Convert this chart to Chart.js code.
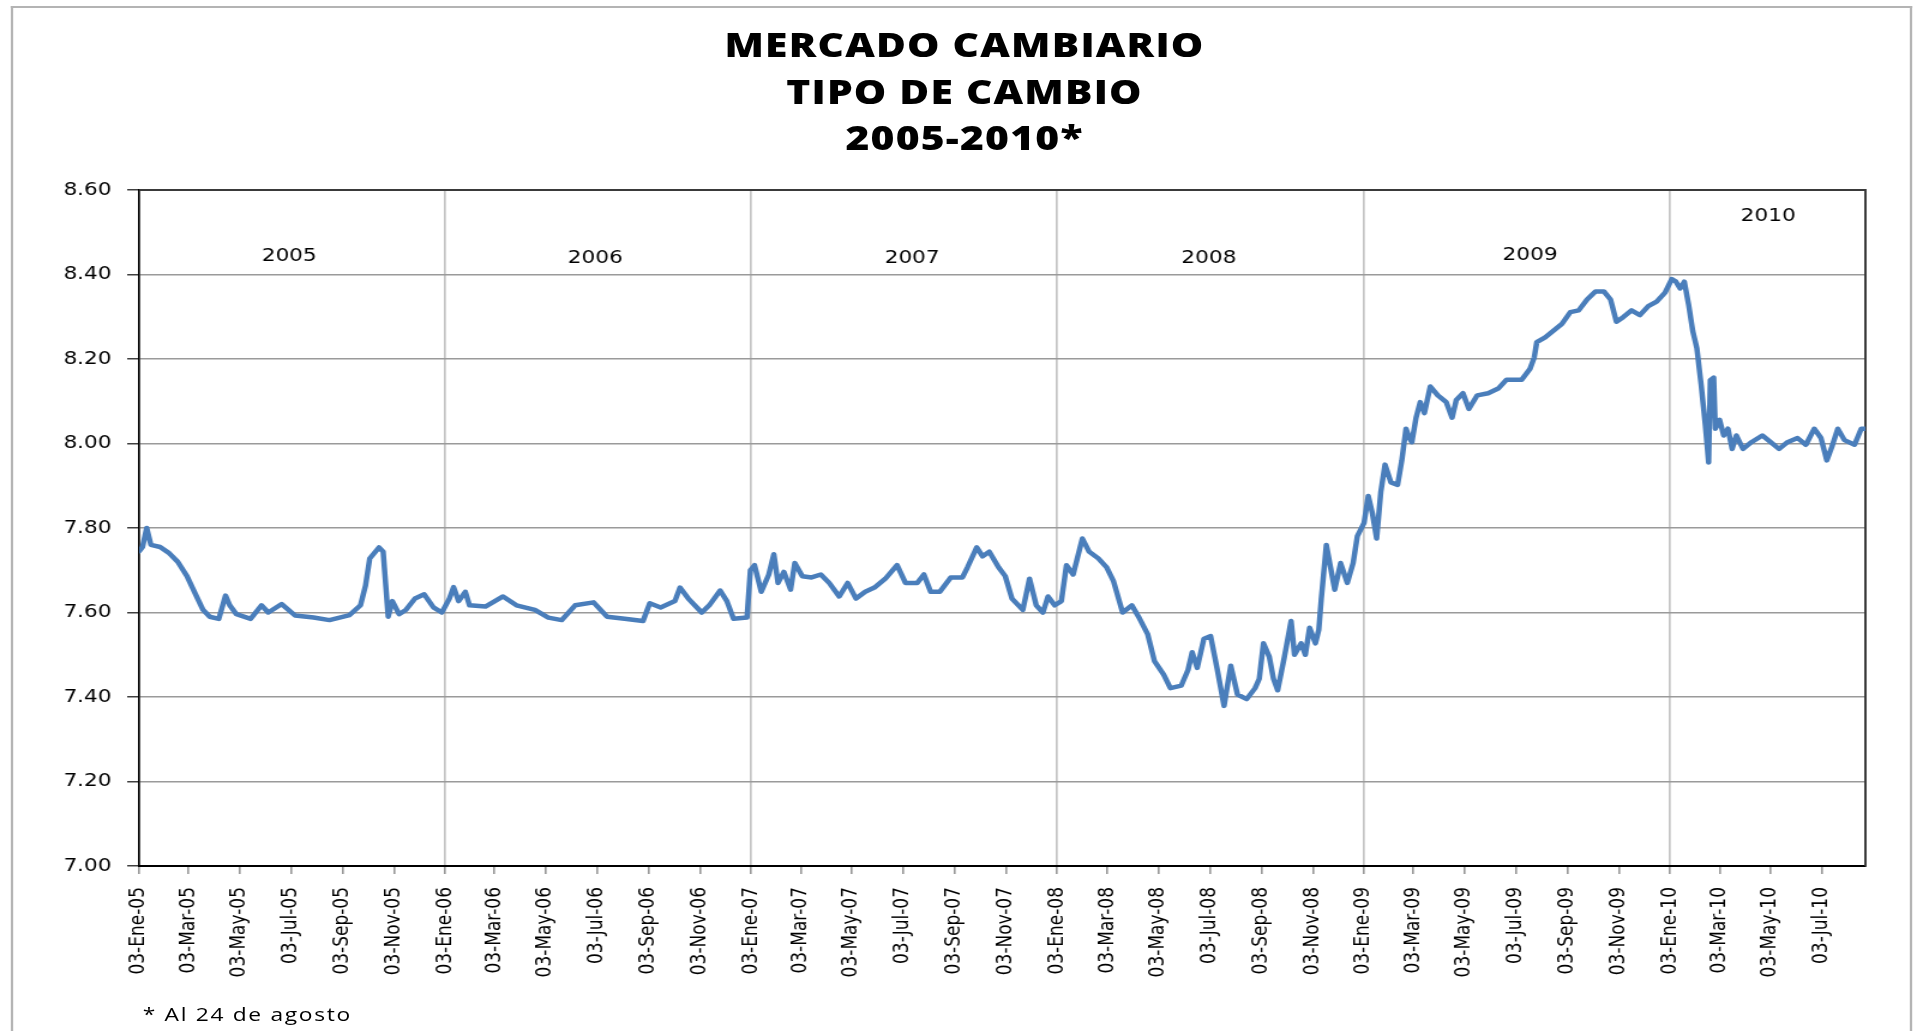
<!DOCTYPE html>
<html lang="es">
<head>
<meta charset="utf-8">
<title>Mercado cambiario - Tipo de cambio 2005-2010</title>
<script src="https://cdn.jsdelivr.net/npm/chart.js@4.4.1/dist/chart.umd.min.js"></script>
<style>
  html, body { margin: 0; padding: 0; background: #fff; overflow: hidden; }
  /* el gráfico original está estirado a lo ancho: se dibuja a 1598px y se escala a 1917px */
  #lienzo { position: absolute; left: 0; top: 0; width: 1598px; height: 1031px;
            transform-origin: 0 0; transform: scaleX(1.19962); }
  #marco { position: absolute; left: 9px; top: 6px; width: 1585px; height: 1100px;
           box-sizing: border-box; border: 2px solid #b4b4b4; border-bottom: none; }
  #titulo { position: absolute; left: 5px; top: 21px; width: 1598px; text-align: center;
            font-family: 'Open Sans', sans-serif; font-weight: 800; font-size: 34px;
            line-height: 46.5px; letter-spacing: 1px; color: #000; }
  #nota { position: absolute; left: 119px; top: 1005px; font-family: 'Open Sans', sans-serif;
          font-size: 19px; line-height: 19px; letter-spacing: 1.4px; color: #000; }
  canvas { position: absolute; left: 0; top: 0; }
</style>
</head>
<body>
<div id="lienzo">
  <div id="marco"></div>
  <canvas id="grafico" width="1598" height="1031"></canvas>
  <div id="titulo">MERCADO CAMBIARIO<br>TIPO DE CAMBIO<br>2005-2010*</div>
  <div id="nota">* Al 24 de agosto</div>
</div>
<script>
// === Datos: tipo de cambio diario (lectura aproximada del gráfico) ===
const fechas = [
  '2005-01-03','2005-01-07','2005-01-12','2005-01-17','2005-01-28','2005-02-08','2005-02-18','2005-03-01',
  '2005-03-12','2005-03-20','2005-03-28','2005-04-08','2005-04-16','2005-04-21','2005-04-29','2005-05-16',
  '2005-05-29','2005-06-06','2005-06-22','2005-07-08','2005-07-30','2005-08-18','2005-09-11','2005-09-24',
  '2005-09-30','2005-10-05','2005-10-16','2005-10-21','2005-10-27','2005-11-01','2005-11-09','2005-11-17',
  '2005-11-28','2005-12-09','2005-12-20','2005-12-30',
  '2006-01-08','2006-01-13','2006-01-19','2006-01-27','2006-02-01','2006-02-20','2006-03-13','2006-03-29',
  '2006-04-20','2006-05-06','2006-05-22','2006-06-07','2006-06-29','2006-07-15','2006-08-05','2006-08-27',
  '2006-09-04','2006-09-17','2006-10-04','2006-10-10','2006-10-20','2006-11-05','2006-11-14','2006-11-27',
  '2006-12-05','2006-12-13','2006-12-29',
  '2007-01-02','2007-01-07','2007-01-15','2007-01-24','2007-01-30','2007-02-04','2007-02-11','2007-02-19',
  '2007-02-24','2007-03-05','2007-03-16','2007-03-27','2007-04-06','2007-04-18','2007-04-28','2007-05-08',
  '2007-05-19','2007-05-30','2007-06-12','2007-06-26','2007-07-06','2007-07-20','2007-07-28','2007-08-05',
  '2007-08-16','2007-08-29','2007-09-12','2007-09-18','2007-09-29','2007-10-06','2007-10-14','2007-10-25',
  '2007-11-02','2007-11-10','2007-11-23','2007-12-01','2007-12-09','2007-12-17','2007-12-23','2007-12-31',
  '2008-01-08','2008-01-14','2008-01-22','2008-02-02','2008-02-10','2008-02-21','2008-03-02','2008-03-10',
  '2008-03-21','2008-04-01','2008-04-09','2008-04-20','2008-04-28','2008-05-09','2008-05-17','2008-05-30',
  '2008-06-07','2008-06-12','2008-06-18','2008-06-26','2008-07-04','2008-07-12','2008-07-20','2008-07-28',
  '2008-08-05','2008-08-16','2008-08-26','2008-08-31','2008-09-05','2008-09-12','2008-09-17','2008-09-22',
  '2008-09-30','2008-10-08','2008-10-12','2008-10-20','2008-10-25','2008-10-30','2008-11-06','2008-11-10',
  '2008-11-13','2008-11-19','2008-11-24','2008-11-29','2008-12-06','2008-12-14','2008-12-21','2008-12-26',
  '2009-01-03','2009-01-08','2009-01-13','2009-01-18','2009-01-23','2009-01-28','2009-02-04','2009-02-12',
  '2009-02-17','2009-02-22','2009-02-26','2009-03-01','2009-03-06','2009-03-11','2009-03-16','2009-03-23',
  '2009-04-01','2009-04-11','2009-04-18','2009-04-23','2009-05-01','2009-05-08','2009-05-18','2009-05-31',
  '2009-06-12','2009-06-22','2009-07-03','2009-07-10','2009-07-20','2009-07-25','2009-07-28','2009-08-07',
  '2009-08-17','2009-08-27','2009-09-06','2009-09-16','2009-09-26','2009-10-06','2009-10-16','2009-10-24',
  '2009-10-31','2009-11-08','2009-11-18','2009-11-28','2009-12-08','2009-12-18','2009-12-28',
  '2010-01-05','2010-01-10','2010-01-15','2010-01-20','2010-01-25','2010-01-30','2010-02-04','2010-02-09',
  '2010-02-14','2010-02-18','2010-02-20','2010-02-24','2010-02-26','2010-03-03','2010-03-08','2010-03-13',
  '2010-03-18','2010-03-23','2010-03-31','2010-04-10','2010-04-23','2010-05-03','2010-05-13','2010-05-23',
  '2010-06-04','2010-06-14','2010-06-24','2010-07-02','2010-07-09','2010-07-15','2010-07-22','2010-07-30',
  '2010-08-11','2010-08-19','2010-08-24'
];
const tipoCambio = [
  7.745,7.755,7.800,7.760,7.755,7.740,7.720,7.686,
  7.640,7.607,7.590,7.585,7.640,7.617,7.596,7.585,
  7.617,7.600,7.620,7.593,7.588,7.582,7.594,7.617,
  7.664,7.728,7.754,7.744,7.590,7.627,7.596,7.606,
  7.633,7.643,7.612,7.600,
  7.633,7.660,7.627,7.649,7.617,7.614,7.638,7.617,
  7.606,7.588,7.582,7.617,7.624,7.590,7.585,7.580,
  7.622,7.612,7.627,7.659,7.633,7.600,7.617,7.652,
  7.627,7.585,7.588,
  7.700,7.712,7.649,7.690,7.738,7.670,7.696,7.654,
  7.717,7.686,7.683,7.690,7.670,7.638,7.670,7.633,
  7.649,7.659,7.680,7.712,7.670,7.670,7.690,7.649,
  7.649,7.683,7.683,7.707,7.754,7.733,7.744,7.707,
  7.686,7.633,7.606,7.680,7.617,7.600,7.638,7.617,
  7.627,7.712,7.690,7.775,7.744,7.728,7.707,7.675,
  7.600,7.617,7.590,7.548,7.485,7.453,7.421,7.427,
  7.464,7.506,7.469,7.538,7.544,7.464,7.379,7.474,
  7.406,7.395,7.421,7.443,7.527,7.495,7.443,7.416,
  7.495,7.580,7.500,7.527,7.500,7.564,7.527,7.559,
  7.633,7.760,7.707,7.654,7.717,7.670,7.717,7.781,
  7.812,7.876,7.834,7.775,7.886,7.950,7.908,7.902,
  7.960,8.035,8.013,8.003,8.061,8.098,8.072,8.135,
  8.114,8.098,8.061,8.103,8.119,8.082,8.114,8.119,
  8.130,8.151,8.151,8.151,8.177,8.204,8.240,8.251,
  8.267,8.283,8.311,8.315,8.341,8.360,8.360,8.341,
  8.288,8.299,8.315,8.304,8.325,8.336,8.357,
  8.389,8.383,8.367,8.383,8.330,8.267,8.225,8.140,
  8.045,7.955,8.150,8.156,8.035,8.056,8.019,8.035,
  7.987,8.019,7.987,8.003,8.019,8.003,7.987,8.003,
  8.013,7.997,8.035,8.013,7.960,7.992,8.035,8.008,
  7.997,8.035,8.035
];
const etiquetasX = [
  '03-Ene-05','03-Mar-05','03-May-05','03-Jul-05','03-Sep-05','03-Nov-05',
  '03-Ene-06','03-Mar-06','03-May-06','03-Jul-06','03-Sep-06','03-Nov-06',
  '03-Ene-07','03-Mar-07','03-May-07','03-Jul-07','03-Sep-07','03-Nov-07',
  '03-Ene-08','03-Mar-08','03-May-08','03-Jul-08','03-Sep-08','03-Nov-08',
  '03-Ene-09','03-Mar-09','03-May-09','03-Jul-09','03-Sep-09','03-Nov-09',
  '03-Ene-10','03-Mar-10','03-May-10','03-Jul-10'
];
const ticksY = [7.00, 7.20, 7.40, 7.60, 7.80, 8.00, 8.20, 8.40, 8.60];
// rótulos de año dentro del área de trazado
const anios = ['2005', '2006', '2007', '2008', '2009', '2010'];
const fechaAnio = ['2005-07-01', '2006-07-01', '2007-07-14', '2008-07-02', '2009-07-20', '2010-04-30'];
const nivelAnio = [8.444, 8.439, 8.439, 8.439, 8.446, 8.537];

const meses = { Ene: 0, Feb: 1, Mar: 2, Abr: 3, May: 4, Jun: 5, Jul: 6, Ago: 7, Sep: 8, Oct: 9, Nov: 10, Dic: 11 };
// fecha ISO -> número de día
const aDia = (iso) => {
    const [a, m, d] = iso.split('-').map(Number);
    return Date.UTC(a, m - 1, d) / 864e5;
};
const diaDeEtiqueta = (et) => {
    const [d, m, a] = et.split('-');
    return Date.UTC(2000 + Number(a), meses[m], Number(d)) / 864e5;
};

const FUENTE_EJES = '"DejaVu Sans", Verdana, sans-serif';

const adornos = {
    id: 'adornos',
    beforeDatasetsDraw(chart) {
        const { ctx, chartArea: ca } = chart;
        ctx.save();
        ctx.strokeStyle = '#3a3a3a';
        ctx.lineWidth = 2;
        ctx.beginPath();
        ctx.moveTo(ca.left, ca.top);
        ctx.lineTo(ca.right, ca.top);
        ctx.lineTo(ca.right, ca.bottom);
        ctx.stroke();
        ctx.restore();
    },
    afterDatasetsDraw(chart) {
        const { ctx, scales: { x, y } } = chart;
        ctx.save();
        ctx.font = '18px ' + FUENTE_EJES;
        ctx.fillStyle = '#000';
        ctx.textAlign = 'center';
        ctx.textBaseline = 'middle';
        anios.forEach((a, i) => {
            ctx.fillText(a, x.getPixelForValue(aDia(fechaAnio[i])), y.getPixelForValue(nivelAnio[i]));
        });
        ctx.restore();
    }
};

new Chart(document.getElementById('grafico'), {
    type: 'line',
    data: {
        datasets: [{
            label: 'Tipo de cambio',
            data: fechas.map((f, i) => ({ x: aDia(f), y: tipoCambio[i] })),
            borderColor: '#4A7EBB',
            borderWidth: 4.5,
            pointRadius: 0,
            tension: 0,
            fill: false,
            borderJoinStyle: 'round',
            borderCapStyle: 'round'
        }]
    },
    options: {
        responsive: false,
        animation: false,
        devicePixelRatio: 1,
        layout: { padding: { top: 190, right: 43, bottom: 0, left: 0 } },
        plugins: {
            legend: { display: false },
            tooltip: { enabled: false },
            title: { display: false }
        },
        scales: {
            x: {
                type: 'linear',
                min: aDia(fechas[0]),
                max: aDia(fechas[fechas.length - 1]),
                afterBuildTicks: (s) => { s.ticks = etiquetasX.map(e => ({ value: diaDeEtiqueta(e) })); },
                afterFit: (s) => { s.height = 165; },
                ticks: {
                    autoSkip: false,
                    minRotation: 90,
                    maxRotation: 90,
                    padding: 13,
                    color: '#000',
                    font: { family: FUENTE_EJES, size: 17 },
                    callback: (v, i) => etiquetasX[i]
                },
                grid: {
                    color: (c) => (c.index > 0 && etiquetasX[c.index] && etiquetasX[c.index].includes('Ene')) ? '#c4c4c4' : 'rgba(0,0,0,0)',
                    lineWidth: 1.7,
                    tickColor: '#808080',
                    tickWidth: 1.3,
                    tickLength: 8
                },
                border: { display: true, color: '#000', width: 2 }
            },
            y: {
                min: 7.0,
                max: 8.6,
                afterBuildTicks: (s) => { s.ticks = ticksY.map(v => ({ value: v })); },
                afterFit: (s) => { s.width = 116; },
                ticks: {
                    padding: 13,
                    color: '#000',
                    font: { family: FUENTE_EJES, size: 18 },
                    callback: (v) => Number(v).toFixed(2)
                },
                grid: {
                    color: '#9a9a9a',
                    lineWidth: 1.5,
                    tickColor: '#404040',
                    tickLength: 10
                },
                border: { display: true, color: '#000', width: 1.7 }
            }
        }
    },
    plugins: [adornos]
});
</script>
</body>
</html>
